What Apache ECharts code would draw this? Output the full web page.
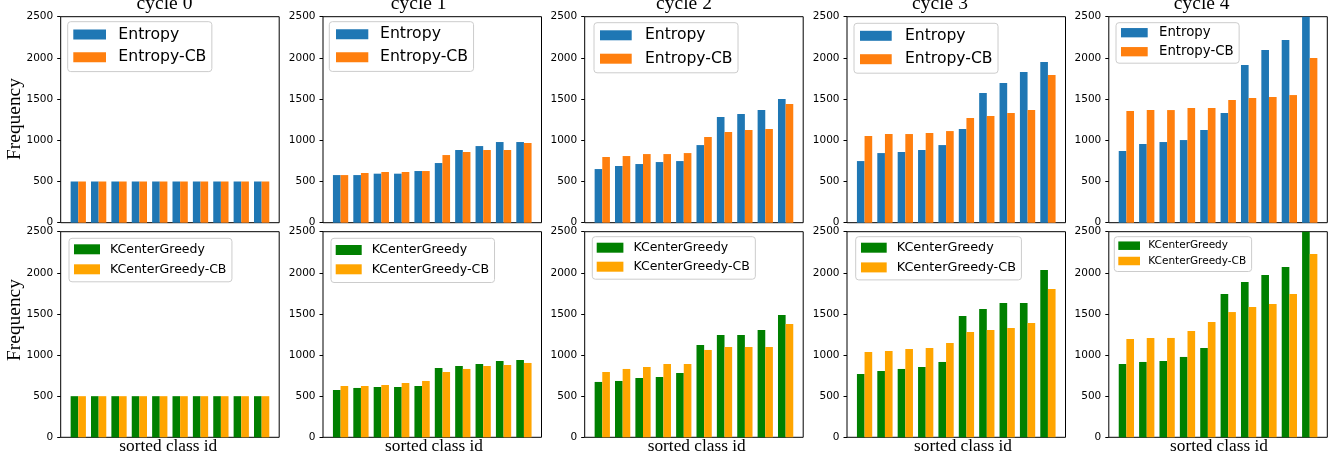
<!DOCTYPE html>
<html><head><meta charset="utf-8">
<script src="https://cdn.jsdelivr.net/npm/echarts@6/dist/echarts.min.js"></script>
<style>html,body{margin:0;padding:0;background:#fff}#c{width:1335px;height:456px}</style>
</head><body><div id="c"></div><script>
// ---------- data ----------
const classIds = [0, 1, 2, 3, 4, 5, 6, 7, 8, 9];
const cycleTitles = ['cycle 0', 'cycle 1', 'cycle 2', 'cycle 3', 'cycle 4'];
const yTickStep = 500;
const yMax = 2500;
const yLabel = 'Frequency';
const xLabel = 'sorted class id';
const topNames = ['Entropy', 'Entropy-CB'];
const bottomNames = ['KCenterGreedy', 'KCenterGreedy-CB'];

const entropy0   = [500, 500, 500, 500, 500, 500, 500, 500, 500, 500];
const entropyCB0 = [500, 500, 500, 500, 500, 500, 500, 500, 500, 500];
const entropy1   = [578, 578, 595, 595, 627, 724, 882, 930, 979, 979];
const entropyCB1 = [578, 603, 615, 615, 627, 821, 858, 882, 882, 967];
const entropy2   = [651, 688, 712, 736, 748, 942, 1282, 1319, 1367, 1501];
const entropyCB2 = [797, 809, 833, 833, 845, 1040, 1100, 1125, 1137, 1440];
const entropy3   = [748, 845, 858, 882, 942, 1137, 1574, 1695, 1828, 1950];
const entropyCB3 = [1052, 1076, 1076, 1088, 1112, 1270, 1294, 1331, 1367, 1792];
const entropy4   = [870, 955, 979, 1003, 1125, 1331, 1913, 2095, 2217, 2600];
const entropyCB4 = [1355, 1367, 1367, 1392, 1392, 1489, 1513, 1525, 1549, 1998];

const kcg0   = [500, 500, 500, 500, 500, 500, 500, 500, 500, 500];
const kcgCB0 = [500, 500, 500, 500, 500, 500, 500, 500, 500, 500];
const kcg1   = [575, 600, 612, 612, 624, 843, 867, 891, 928, 940];
const kcgCB1 = [624, 624, 636, 660, 685, 794, 831, 867, 879, 904];
const kcg2   = [673, 685, 721, 733, 782, 1122, 1244, 1244, 1305, 1487];
const kcgCB2 = [794, 831, 855, 891, 891, 1062, 1098, 1098, 1098, 1378];
const kcg3   = [770, 806, 831, 855, 916, 1475, 1560, 1633, 1633, 2034];
const kcgCB3 = [1037, 1049, 1074, 1086, 1147, 1280, 1305, 1329, 1390, 1803];
const kcg4   = [891, 916, 928, 977, 1086, 1742, 1888, 1973, 2071, 2600];
const kcgCB4 = [1195, 1208, 1208, 1293, 1402, 1523, 1584, 1621, 1742, 2229];

const topA = [entropy0, entropy1, entropy2, entropy3, entropy4];
const topB = [entropyCB0, entropyCB1, entropyCB2, entropyCB3, entropyCB4];
const botA = [kcg0, kcg1, kcg2, kcg3, kcg4];
const botB = [kcgCB0, kcgCB1, kcgCB2, kcgCB3, kcgCB4];

// ---------- layout / style ----------
const colLeft = [60.7, 323, 584.7, 847, 1108.8];
const panelW = 218.5;
const rows = [{ top: 16.7, h: 206 }, { top: 231.7, h: 205.6 }];
const topColors = ['#1f77b4', '#ff7f0e'];
const botColors = ['#008000', '#ffa500'];
const barHalf = 0.375;
const xMin = -barHalf - 0.05 * (9 + 2 * barHalf);
const xMax = 9 + barHalf + 0.05 * (9 + 2 * barHalf);
const barPx = barHalf * panelW / (xMax - xMin);
const titleX = [164.5, 418.7, 684, 940, 1201.7];
const xLabelX = [168.3, 434, 696.7, 963, 1219];

// legend boxes: left, top, fontSize, iconW, iconH, row pitch, first-row center offset, text gap, pad left
const legTop = [
  [67.7, 21.7, 15.7, 32.7, 10, 22.8, 12.8, 12.3, 5.6],
  [329.3, 21.7, 15.7, 32.3, 10, 23.0, 12.6, 11.7, 6.7],
  [594.0, 22.7, 15.6, 31.7, 10, 23.4, 12.6, 13.3, 6.0],
  [854.0, 23.3, 15.6, 31.7, 10, 23.4, 12.5, 13.3, 6.0],
  [1116.0, 22.7, 13.3, 26.7, 9.3, 19.0, 10.0, 11.3, 5.0]
];
const legBot = [
  [69.0, 238.3, 12.5, 26.0, 10, 20.0, 11.0, 10.0, 5.0],
  [331.0, 238.3, 12.6, 26.0, 10, 19.3, 11.7, 10.0, 4.7],
  [592.3, 236.7, 12.5, 26.7, 10, 19.0, 11.0, 10.0, 4.4],
  [855.7, 236.7, 12.8, 25.7, 10, 19.7, 11.0, 10.0, 5.3],
  [1114.3, 236.7, 10.5, 21.7, 8.5, 15.3, 9.0, 8.3, 4.0]
];

const grids = [], xAxes = [], yAxes = [], series = [], legends = [], graphics = [];

function makeLegend(p, names) {
  const [left, top, fs, iw, ih, pitch, c1, tgap, padL] = p;
  const lh = Math.round(fs * 1.15);
  return {
    orient: 'vertical', left: left, top: top,
    data: names.map(n => ({ name: n, icon: 'rect' })),
    itemWidth: iw, itemHeight: ih, itemGap: pitch - lh,
    padding: [c1 - lh / 2, 5.5, c1 - lh / 2 + 1.5, padL],
    borderColor: '#cccccc', borderWidth: 1, borderRadius: 3,
    backgroundColor: 'rgba(255,255,255,0.8)',
    selectedMode: false,
    textStyle: { fontFamily: 'DejaVu Sans', fontSize: fs, color: '#000', lineHeight: lh,
                 padding: [0, 0, 0, tgap - 5] }
  };
}

rows.forEach((r, ri) => {
  for (let c = 0; c < 5; c++) {
    const gi = grids.length;
    grids.push({ left: colLeft[c], top: r.top, width: panelW, height: r.h, show: true,
      borderColor: '#000', borderWidth: 1, backgroundColor: 'transparent', outerBoundsMode: 'none' });
    xAxes.push({ type: 'value', gridIndex: gi, min: xMin, max: xMax, position: 'bottom',
      axisLine: { show: false, onZero: false }, axisTick: { show: false }, axisLabel: { show: false },
      splitLine: { show: false } });
    yAxes.push({ type: 'value', gridIndex: gi, min: 0, max: yMax, interval: yTickStep, position: 'left',
      axisLine: { show: false, onZero: false }, splitLine: { show: false },
      axisTick: { show: true, inside: false, length: 3.5, lineStyle: { color: '#000', width: 1 } },
      axisLabel: { margin: 7.5, fontSize: 10.5, fontFamily: 'DejaVu Sans', color: '#000',
                   formatter: v => String(v) } });
    const names = ri === 0 ? topNames : bottomNames;
    const cols = ri === 0 ? topColors : botColors;
    const A = ri === 0 ? topA[c] : botA[c];
    const B = ri === 0 ? topB[c] : botB[c];
    [A, B].forEach((vals, si) => {
      series.push({ type: 'bar', name: names[si], xAxisIndex: gi, yAxisIndex: gi,
        data: classIds.map((x, k) => [x, vals[k]]), barWidth: barPx, barGap: '0%',
        clip: true, itemStyle: { color: cols[si] }, emphasis: { disabled: true } });
    });
    legends.push(makeLegend(ri === 0 ? legTop[c] : legBot[c], names));
  }
});

cycleTitles.forEach((t, c) => {
  graphics.push({ type: 'text', x: titleX[c], y: 3.6, style: { text: t, font: '19.5px "Liberation Serif"',
    fill: '#000', align: 'center', verticalAlign: 'middle' } });
  graphics.push({ type: 'text', x: xLabelX[c], y: 446.5, style: { text: xLabel, font: '17.3px "Liberation Serif"',
    fill: '#000', align: 'center', verticalAlign: 'middle' } });
});
[119, 320].forEach(cy => {
  graphics.push({ type: 'text', x: 15, y: cy, rotation: Math.PI / 2, style: { text: yLabel,
    font: '19.4px "Liberation Serif"', fill: '#000', align: 'center', verticalAlign: 'middle' } });
});

const chart = echarts.init(document.getElementById('c'), null, { renderer: 'canvas' });
chart.setOption({ animation: false, grid: grids, xAxis: xAxes, yAxis: yAxes, series: series,
  legend: legends, graphic: graphics, tooltip: { show: false } });
</script></body></html>
